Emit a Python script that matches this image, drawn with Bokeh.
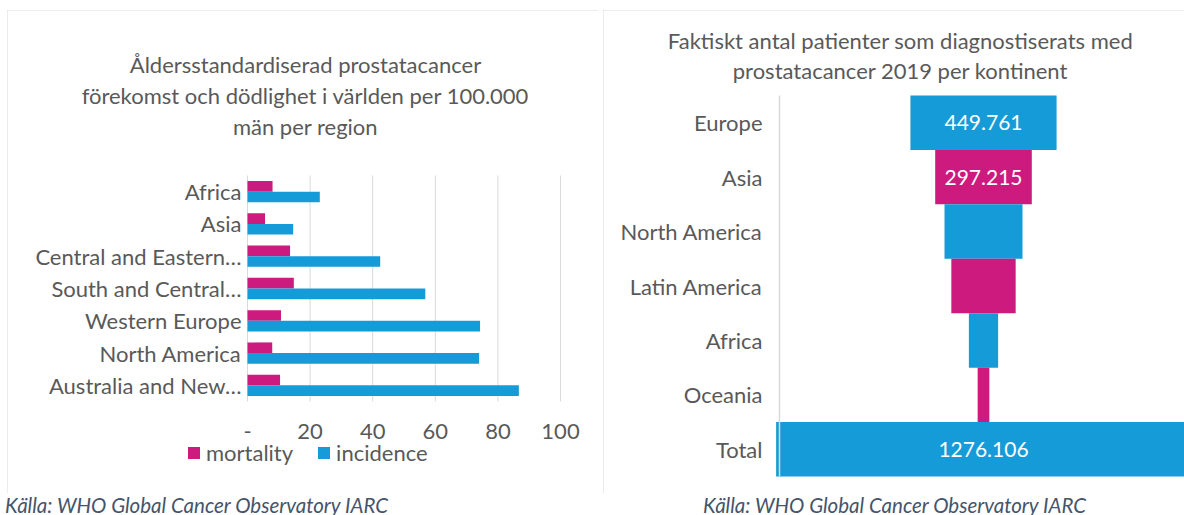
from bokeh.plotting import figure
from bokeh.models import (Range1d, Legend, LegendItem, Div, Spacer, ColumnDataSource)
from bokeh.layouts import column, row
from bokeh.core.properties import value
from bokeh.embed import file_html
from bokeh.resources import INLINE

# ---------------- data ----------------
regions = ["Africa", "Asia", "Central and Eastern…", "South and Central…",
           "Western Europe", "North America", "Australia and New…"]
mortality = [8.0, 5.6, 13.6, 14.8, 10.7, 7.9, 10.4]
incidence = [23.1, 14.6, 42.4, 56.8, 74.3, 74.0, 86.7]
x_ticks = [0, 20, 40, 60, 80, 100]
x_tick_labels = ["-", "20", "40", "60", "80", "100"]
left_title = ["Åldersstandardiserad prostatacancer",
              "förekomst och dödlighet i världen per 100.000",
              "män per region"]

continents = ["Europe", "Asia", "North America", "Latin America", "Africa",
              "Oceania", "Total"]
patients = [449.761, 297.215, 240.0, 198.0, 90.0, 36.0, 1276.106]
patient_labels = ["449.761", "297.215", "", "", "", "", "1276.106"]
right_title = ["Faktiskt antal patienter som diagnostiserats med",
               "prostatacancer 2019 per kontinent"]
source_text = "Källa: WHO Global Cancer Observatory IARC"

# ---------------- styles ----------------
MAGENTA = "#CC1A7E"
BLUE = "#159BD7"
TEXT = "#595959"
GRID = "#D9D9D9"
FONT = "Lato"
FS = "22px"
box_style = {"outline": "1px solid #D9D9D9", "outline-offset": "-1px"}

# ---------------- layout geometry (page pixels) ----------------
TOP, H = 10, 483
L_LEFT, L_W = 7, 591
R_LEFT, R_W = 603, 581
# left chart: value 0 / 100 pixel positions, category band
LX0, LX100 = 247, 560
LBAND_TOP, LBAND_BOT = 175, 401
# right chart: funnel centre, px per thousand, category band
RC, RSCALE = 983, 0.325
RBAND_TOP, RBAND_BOT = 95, 476

n1 = len(regions)
l_ppu = (LX100 - LX0) / 100.0
l_cat = (LBAND_BOT - LBAND_TOP) / n1
lx = lambda px: (px - LX0) / l_ppu
ly = lambda py: (LBAND_BOT - py) / l_cat

n2 = len(continents)
r_cat = (RBAND_BOT - RBAND_TOP) / n2
rx = lambda px: (px - RC) / RSCALE
ry = lambda py: (RBAND_BOT - py) / r_cat


def base_fig(width, xr, yr):
    p = figure(width=width, height=H, output_backend="svg", toolbar_location=None,
               x_range=Range1d(*xr), y_range=Range1d(*yr),
               x_axis_type=None, y_axis_type=None, min_border=0,
               styles=box_style)
    p.outline_line_color = None
    p.grid.grid_line_color = None
    return p


def txt(p, x, y, t, align="center", color=TEXT, size=FS):
    p.text(x=x, y=y, text=t, text_align=align, text_baseline="middle",
           text_color=color, text_font=value(FONT), text_font_size=size)


# ---------------- left chart ----------------
p1 = base_fig(L_W, (lx(L_LEFT), lx(L_LEFT + L_W)), (ly(TOP + H), ly(TOP)))
ypos1 = [n1 - i - 0.5 for i in range(n1)]
src = ColumnDataSource(dict(region=regions, mortality=mortality, incidence=incidence,
                            ym=[y + 0.165 for y in ypos1],
                            yi=[y - 0.165 for y in ypos1], yc=ypos1))
p1.segment(x0=x_ticks, y0=[0] * len(x_ticks), x1=x_ticks, y1=[n1] * len(x_ticks),
           line_color=GRID, line_width=1)
r_m = p1.hbar(y="ym", left=0, right="mortality", height=0.33, source=src,
              fill_color=MAGENTA, line_color=None)
r_i = p1.hbar(y="yi", left=0, right="incidence", height=0.33, source=src,
              fill_color=BLUE, line_color=None)
txt(p1, [lx(241)] * n1, ypos1, regions, align="right")
txt(p1, x_ticks, [ly(431)] * len(x_ticks), x_tick_labels)
txt(p1, [lx(305)] * 3, [ly(64), ly(95), ly(126)], left_title)

legend = Legend(items=[LegendItem(label="mortality", renderers=[r_m]),
                       LegendItem(label="incidence", renderers=[r_i])],
                location=(186 - L_LEFT, TOP + H - 466), orientation="horizontal",
                glyph_width=15, glyph_height=15, label_standoff=5, spacing=23,
                padding=0, margin=0, border_line_color=None,
                background_fill_alpha=0, label_text_font=FONT,
                label_text_font_size=FS, label_text_color=TEXT)
p1.add_layout(legend)

# ---------------- right chart ----------------
p2 = base_fig(R_W, (rx(R_LEFT), rx(R_LEFT + R_W)), (ry(TOP + H), ry(TOP)))
ypos2 = [n2 - i - 0.5 for i in range(n2)]
src2 = ColumnDataSource(dict(cont=continents, y=ypos2,
                             left=[-v / 2 for v in patients],
                             right=[v / 2 for v in patients],
                             color=[BLUE, MAGENTA, BLUE, MAGENTA, BLUE, MAGENTA, BLUE],
                             lab=patient_labels, zero=[0] * n2))
p2.hbar(y="y", left="left", right="right", height=1.0, source=src2,
        fill_color="color", line_color=None)
p2.segment(x0=[rx(779)], y0=[0], x1=[rx(779)], y1=[n2], line_color=GRID,
           line_width=1.5)
p2.text(x="zero", y="y", text="lab", source=src2, text_align="center",
        text_baseline="middle", text_color="white", text_font=value(FONT),
        text_font_size="21px")
txt(p2, [rx(762)] * n2, ypos2, continents, align="right")
txt(p2, [rx(900)] * 2, [ry(40), ry(70)], right_title)

# ---------------- source lines ----------------
src_style = {"font-family": "Lato", "font-style": "italic", "font-size": "20.5px",
             "color": "#44546A", "line-height": "14px", "white-space": "nowrap"}
d1 = Div(text=source_text, width=603, height=22, styles=dict(src_style))
d2 = Div(text=source_text, width=581, height=22,
         styles=dict(src_style, **{"padding-left": "85px"}))

layout = column(Spacer(height=TOP),
                row(Spacer(width=L_LEFT), p1, Spacer(width=R_LEFT - L_LEFT - L_W), p2),
                row(d1, d2))

open("out.html", "w").write(file_html(layout, INLINE))
